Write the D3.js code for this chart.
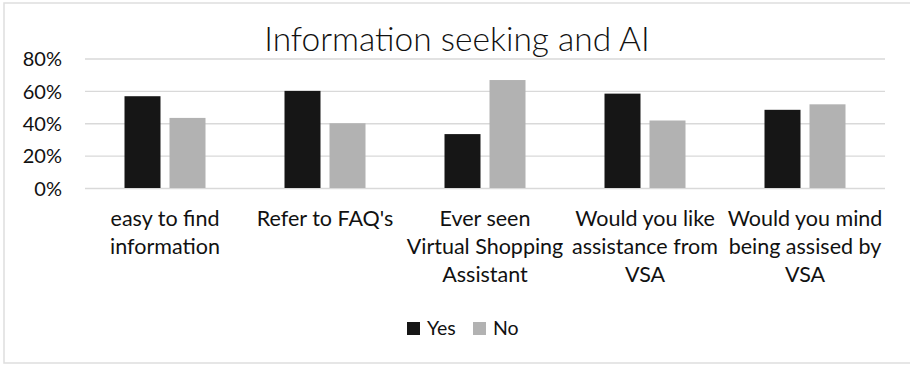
<!DOCTYPE html>
<html>
<head>
<meta charset="utf-8">
<script src="https://cdn.jsdelivr.net/npm/d3@7"></script>
<style>
  body { margin: 0; background: #fff; }
  text { font-family: Lato, "Open Sans", sans-serif; fill: #111; }
</style>
</head>
<body>
<svg id="chart" width="910" height="365"></svg>
<script>
// data
let categories = ["easy to find\ninformation", "Refer to FAQ's", "Ever seen\nVirtual Shopping\nAssistant",
                  "Would you like\nassistance from\nVSA", "Would you mind\nbeing assised by\nVSA"];
let series = ["Yes", "No"];
let yesValues = [0.567, 0.60, 0.333, 0.583, 0.483];
let noValues = [0.433, 0.40, 0.667, 0.417, 0.517];
let yTicks = [0, 0.2, 0.4, 0.6, 0.8];
let colors = ["#161616", "#b2b2b2"];

let svg = d3.select("#chart");

let plotLeft = 85, plotRight = 885, plotTop = 58.5, plotBottom = 188;

// outer frame
svg.append("rect")
    .attr("x", 4).attr("y", 3)
    .attr("width", 912).attr("height", 360)
    .attr("fill", "none")
    .attr("stroke", "#dedede")
    .attr("stroke-width", 1.5);

svg.append("text")
    .attr("x", 457).attr("y", 51)
    .attr("text-anchor", "middle")
    .style("font-size", "33.5px")
    .style("font-weight", 300)
    .text("Information seeking and AI");

let y = d3.scaleLinear().domain([0, 0.8]).range([plotBottom, plotTop]);
let x0 = d3.scaleBand().domain(categories).range([plotLeft, plotRight]).padding(0);
let x1 = d3.scaleBand().domain(series).range([39.5, 120.5]).paddingInner(0.2);

// gridlines + tick labels
let yAxis = d3.axisLeft(y)
    .tickValues(yTicks)
    .tickSize(-(plotRight - plotLeft))
    .tickPadding(23)
    .tickFormat(d3.format(".0%"));

let gy = svg.append("g")
    .attr("transform", `translate(${plotLeft},0)`)
    .call(yAxis);
gy.select(".domain").remove();
gy.selectAll(".tick line").attr("stroke", "#d9d9d9").attr("stroke-width", 1.3);
gy.selectAll(".tick text")
    .attr("dy", "0.36em")
    .style("font-size", "20px")
    .style("font-family", "Lato, 'Open Sans', sans-serif")
    .attr("fill", "#111");

// bars
let rows = categories.map((c, i) => ({ cat: c, vals: [yesValues[i], noValues[i]] }));

let groups = svg.selectAll(".grp")
    .data(rows)
    .enter()
    .append("g")
    .attr("class", "grp")
    .attr("transform", d => `translate(${x0(d.cat)},0)`);

groups.selectAll("rect")
    .data(d => d.vals.map((v, j) => ({ s: series[j], v: v, c: colors[j] })))
    .enter()
    .append("rect")
    .attr("x", d => x1(d.s))
    .attr("width", x1.bandwidth())
    .attr("y", d => y(d.v))
    .attr("height", d => plotBottom - y(d.v))
    .attr("fill", d => d.c);

// category labels
let labels = svg.selectAll(".cat")
    .data(categories)
    .enter()
    .append("text")
    .attr("class", "cat")
    .attr("text-anchor", "middle")
    .style("font-size", "21.5px");

labels.selectAll("tspan")
    .data(d => d.split("\n").map(line => ({ line: line, cat: d })))
    .enter()
    .append("tspan")
    .attr("x", d => x0(d.cat) + x0.bandwidth() / 2)
    .attr("y", (d, i) => 226 + i * 28)
    .text(d => d.line);

// legend
let legendX = [407, 473];
let legend = svg.selectAll(".leg")
    .data(series)
    .enter()
    .append("g")
    .attr("class", "leg")
    .attr("transform", (d, i) => `translate(${legendX[i]},322)`);

legend.append("rect")
    .attr("width", 13).attr("height", 13)
    .attr("fill", (d, i) => colors[i]);

legend.append("text")
    .attr("x", 20).attr("y", 12.5)
    .style("font-size", "19.5px")
    .text(d => d);
</script>
</body>
</html>
